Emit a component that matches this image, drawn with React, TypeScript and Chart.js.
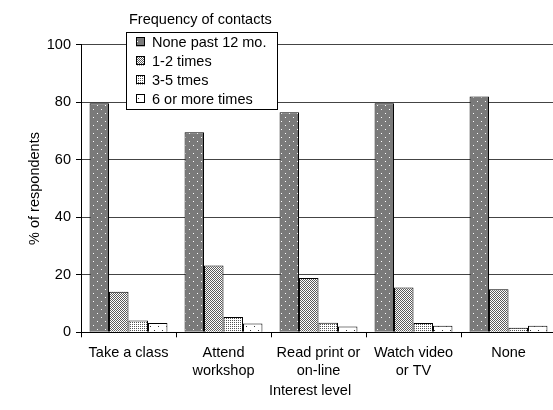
import React, { useEffect, useRef } from "react";
import { Chart, registerables } from "chart.js";

Chart.register(...registerables);

const categories: (string | string[])[] = [
  "Take a class",
  ["Attend", "workshop"],
  ["Read print or", "on-line"],
  ["Watch video", "or TV"],
  "None",
];
const seriesLabels = ["None past 12 mo.", "1-2 times", "3-5 tmes", "6 or more times"];
const nonePast12 = [79.6, 69.6, 76.5, 79.6, 82.0];
const times1to2 = [14.1, 23.2, 18.9, 15.6, 15.0];
const times3to5 = [4.1, 5.3, 3.3, 3.2, 1.6];
const times6plus = [3.2, 3.1, 2.0, 2.3, 2.3];
const yTicks = [0, 20, 40, 60, 80, 100];
const legendTitle = "Frequency of contacts";
const xTitle = "Interest level";
const yTitle = "% of respondents";

const FONT = '"Liberation Sans", Arial, sans-serif';
const FS = 14.5;

function makePattern(w: number, h: number, bg: string, fg: string, pts: number[][]): CanvasPattern | string {
  const c = document.createElement("canvas");
  c.width = w;
  c.height = h;
  const ctx = c.getContext("2d")!;
  ctx.fillStyle = bg;
  ctx.fillRect(0, 0, w, h);
  ctx.fillStyle = fg;
  pts.forEach(([x, y]) => ctx.fillRect(x, y, 1, 1));
  const p = ctx.createPattern(c, "repeat");
  return p || bg;
}

export default function App() {
  const ref = useRef<HTMLCanvasElement>(null);

  useEffect(() => {
    if (!ref.current) return;
    const fills = [
      makePattern(8, 8, "#7a7a7a", "#ffffff", [[1, 1], [5, 5]]),
      makePattern(2, 2, "#ffffff", "#5a5a5a", [[0, 0], [1, 1]]),
      makePattern(2, 2, "#ffffff", "#555555", [[0, 0]]),
      makePattern(8, 8, "#ffffff", "#333333", [[2, 2], [6, 6]]),
    ];
    const values = [nonePast12, times1to2, times3to5, times6plus];

    const overlay = {
      id: "overlay",
      afterDraw(chart: any) {
        const ctx = chart.ctx as CanvasRenderingContext2D;
        ctx.save();
        ctx.font = `${FS}px ${FONT}`;
        ctx.fillStyle = "#000";
        ctx.textBaseline = "middle";
        ctx.textAlign = "left";
        ctx.fillText(legendTitle, 129, 20);
        ctx.fillStyle = "#fff";
        ctx.fillRect(126.5, 32.5, 151, 77);
        ctx.strokeStyle = "#000";
        ctx.lineWidth = 1;
        ctx.strokeRect(126.5, 32.5, 151, 77);
        chart.data.datasets.forEach((ds: any, i: number) => {
          const cy = 42 + i * 19;
          ctx.fillStyle = ds.backgroundColor;
          ctx.fillRect(136, cy - 4.5, 9, 9);
          ctx.strokeStyle = "#000";
          ctx.strokeRect(136.5, cy - 4.5, 8, 8);
          ctx.fillStyle = "#000";
          ctx.fillText(ds.label, 152, cy + 0.5);
        });
        ctx.textAlign = "center";
        ctx.fillText(xTitle, 310, 391);
        ctx.restore();
      },
    };

    const chart = new Chart(ref.current, {
      type: "bar",
      data: {
        labels: categories,
        datasets: values.map((v, i) => ({
          label: seriesLabels[i],
          data: v,
          backgroundColor: fills[i] as any,
          borderColor: "#000",
          borderWidth: 1,
          categoryPercentage: 0.82,
          barPercentage: 1,
        })),
      },
      options: {
        responsive: false,
        animation: false,
        layout: { padding: { left: 22, top: 44.7, right: 0, bottom: 0 } },
        plugins: {
          legend: { display: false },
          tooltip: { enabled: false },
          title: { display: false },
        },
        scales: {
          x: {
            grid: {
              drawOnChartArea: false,
              offset: true,
              tickLength: 5,
              color: "#000",
              tickColor: "#000",
            },
            border: { color: "#000", width: 1 },
            ticks: {
              color: "#000",
              font: { family: FONT, size: FS, lineHeight: 1.28 },
              padding: 6,
              maxRotation: 0,
              autoSkip: false,
            },
            afterFit: (s: any) => {
              s.height = 410 - 332.3;
            },
          },
          y: {
            min: 0,
            max: 100,
            afterBuildTicks: (s: any) => {
              s.ticks = yTicks.map((v) => ({ value: v }));
            },
            grid: {
              color: "#444",
              tickColor: "#000",
              tickLength: 5,
            },
            border: { color: "#000", width: 1 },
            ticks: {
              color: "#000",
              font: { family: FONT, size: FS },
              padding: 5,
            },
            title: {
              display: true,
              text: yTitle,
              color: "#000",
              font: { family: FONT, size: FS },
              padding: { top: 4, bottom: 4 },
            },
            afterFit: (s: any) => {
              s.width = 81 - 22;
            },
          },
        },
      },
      plugins: [overlay],
    });
    return () => chart.destroy();
  }, []);

  return (
    <div
      style={{
        position: "fixed",
        left: 0,
        top: 0,
        width: 553,
        height: 410,
        overflow: "hidden",
        background: "#fff",
      }}
    >
      <canvas ref={ref} width={556} height={410} style={{ display: "block" }} />
    </div>
  );
}
